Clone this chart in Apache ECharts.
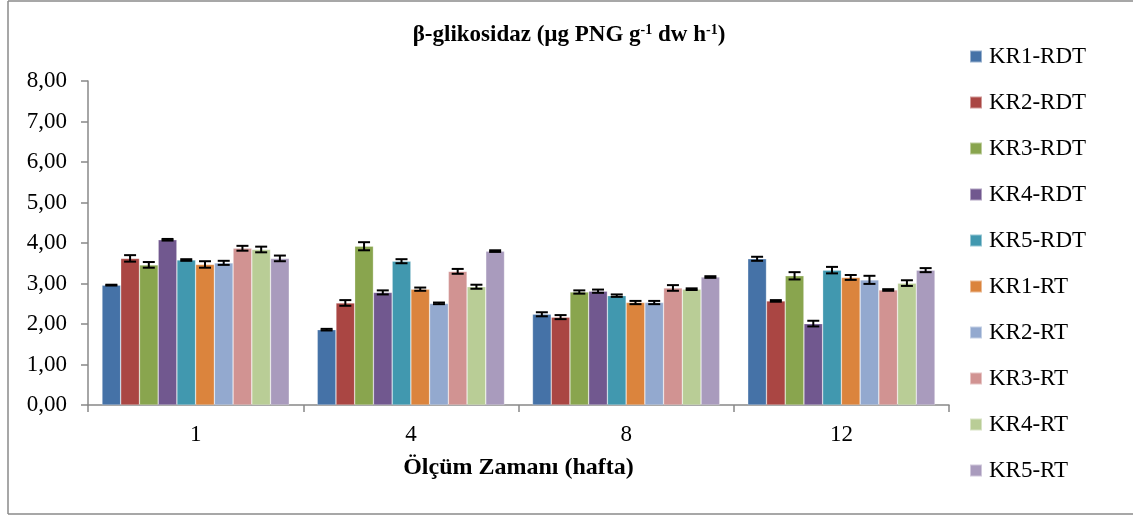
<!DOCTYPE html>
<html><head><meta charset="utf-8">
<script src="https://cdn.jsdelivr.net/npm/echarts@6/dist/echarts.min.js"></script>
<style>html,body{margin:0;padding:0;background:#fff}#c{width:1133px;height:515px}</style>
</head><body><div id="c"></div>
<script>
const categories = ['1', '4', '8', '12'];
const seriesNames = ['KR1-RDT','KR2-RDT','KR3-RDT','KR4-RDT','KR5-RDT','KR1-RT','KR2-RT','KR3-RT','KR4-RT','KR5-RT'];
const colors = ['#4572A7','#AA4643','#89A54E','#71588F','#4198AF','#DB843D','#93A9CF','#D19392','#B9CD96','#A99BBD'];
const yTicks = [0,1,2,3,4,5,6,7,8];

const kr1rdt = [2.96, 1.86, 2.24, 3.61];
const kr2rdt = [3.62, 2.52, 2.17, 2.57];
const kr3rdt = [3.46, 3.92, 2.79, 3.19];
const kr4rdt = [4.08, 2.78, 2.81, 2.01];
const kr5rdt = [3.58, 3.55, 2.70, 3.33];
const kr1rt  = [3.47, 2.86, 2.53, 3.15];
const kr2rt  = [3.51, 2.51, 2.53, 3.09];
const kr3rt  = [3.87, 3.30, 2.89, 2.84];
const kr4rt  = [3.84, 2.92, 2.86, 3.01];
const kr5rt  = [3.62, 3.80, 3.16, 3.33];

const kr1rdtErr = [0.01, 0.02, 0.05, 0.05];
const kr2rdtErr = [0.08, 0.07, 0.05, 0.02];
const kr3rdtErr = [0.07, 0.10, 0.04, 0.09];
const kr4rdtErr = [0.02, 0.05, 0.04, 0.07];
const kr5rdtErr = [0.02, 0.05, 0.03, 0.08];
const kr1rtErr  = [0.08, 0.04, 0.04, 0.06];
const kr2rtErr  = [0.05, 0.02, 0.04, 0.10];
const kr3rtErr  = [0.06, 0.06, 0.07, 0.02];
const kr4rtErr  = [0.07, 0.05, 0.02, 0.07];
const kr5rtErr  = [0.07, 0.02, 0.02, 0.05];

const values = [kr1rdt, kr2rdt, kr3rdt, kr4rdt, kr5rdt, kr1rt, kr2rt, kr3rt, kr4rt, kr5rt];
const errors = [kr1rdtErr, kr2rdtErr, kr3rdtErr, kr4rdtErr, kr5rdtErr, kr1rtErr, kr2rtErr, kr3rtErr, kr4rtErr, kr5rtErr];

const FONT = '"Liberation Serif", "Times New Roman", serif';
const GAP = 0.13;
const N = seriesNames.length;

const barSeries = seriesNames.map((name, si) => ({
  name: name,
  type: 'bar',
  data: values[si],
  barGap: '0%',
  barCategoryGap: (GAP * 100) + '%',
  itemStyle: { color: colors[si], borderColor: 'rgba(255,255,255,0.45)', borderWidth: 0.6 },
  emphasis: { disabled: true }
}));

const errSeries = seriesNames.map((name, si) => ({
  name: 'err-' + name,
  type: 'custom',
  z: 10,
  silent: true,
  encode: { x: 0, y: 1 },
  data: categories.map((c, i) => [i, values[si][i], errors[si][i]]),
  renderItem: function (params, api) {
    const ci = api.value(0), v = api.value(1), e = api.value(2);
    const center = api.coord([ci, v]);
    const band = api.size([1, 0])[0];
    const groupW = band * (1 - GAP);
    const bw = groupW / N;
    const x = center[0] - groupW / 2 + (si + 0.5) * bw;
    const yT = api.coord([ci, v + e])[1];
    const yB = api.coord([ci, v - e])[1];
    const cap = bw * 0.32;
    const st = { stroke: '#000', lineWidth: 2 };
    return { type: 'group', children: [
      { type: 'line', shape: { x1: x, y1: yT, x2: x, y2: yB }, style: st },
      { type: 'line', shape: { x1: x - cap, y1: yT, x2: x + cap, y2: yT }, style: st },
      { type: 'line', shape: { x1: x - cap, y1: yB, x2: x + cap, y2: yB }, style: st }
    ]};
  }
}));

const chart = echarts.init(document.getElementById('c'));
chart.setOption({
  animation: false,
  backgroundColor: '#fff',
  color: colors,
  title: {
    text: 'β-glikosidaz (µg PNG g{s|-1} dw h{s|-1})',
    left: 564, top: 18, textAlign: 'center',
    textStyle: {
      fontFamily: FONT, fontWeight: 'bold', fontSize: 23, color: '#000',
      rich: { s: { fontFamily: FONT, fontWeight: 'bold', fontSize: 14, color: '#000', verticalAlign: 'top', padding: [0, 0, 10, 0] } }
    }
  },
  legend: {
    orient: 'vertical',
    left: 964, top: 40,
    itemWidth: 12, itemHeight: 12,
    itemGap: 23,
    icon: 'rect',
    data: seriesNames,
    textStyle: { fontFamily: FONT, fontSize: 23, color: '#000', lineHeight: 23, padding: [0, 0, 0, 2] }
  },
  grid: { left: 88, right: 184, top: 81, bottom: 110, containLabel: false },
  xAxis: {
    type: 'category',
    data: categories,
    name: 'Ölçüm Zamanı (hafta)',
    nameLocation: 'middle',
    nameGap: 51,
    nameTextStyle: { fontFamily: FONT, fontWeight: 'bold', fontSize: 24, color: '#000' },
    axisLine: { lineStyle: { color: '#888', width: 1.5 } },
    axisTick: { show: true, length: 7, alignWithLabel: false, lineStyle: { color: '#888', width: 1.5 } },
    axisLabel: { fontFamily: FONT, fontSize: 23, color: '#000', margin: 18 },
    splitLine: { show: false }
  },
  yAxis: {
    type: 'value',
    min: yTicks[0], max: yTicks[yTicks.length - 1], interval: 1,
    axisLine: { show: true, lineStyle: { color: '#888', width: 1.5 } },
    axisTick: { show: true, length: 7, lineStyle: { color: '#888', width: 1.5 } },
    axisLabel: { fontFamily: FONT, fontSize: 23, color: '#000', margin: 21,
      formatter: v => v.toFixed(2).replace('.', ',') },
    splitLine: { show: false }
  },
  graphic: [
    { type: 'line', silent: true, shape: { x1: 8, y1: 1, x2: 8, y2: 514 }, style: { stroke: '#8a8a8a', lineWidth: 1.5 } },
    { type: 'line', silent: true, shape: { x1: 8, y1: 1, x2: 1133, y2: 1 }, style: { stroke: '#8a8a8a', lineWidth: 1.5 } },
    { type: 'line', silent: true, shape: { x1: 8, y1: 514, x2: 1133, y2: 514 }, style: { stroke: '#8a8a8a', lineWidth: 1.5 } }
  ],
  series: barSeries.concat(errSeries)
});
</script>
</body></html>
